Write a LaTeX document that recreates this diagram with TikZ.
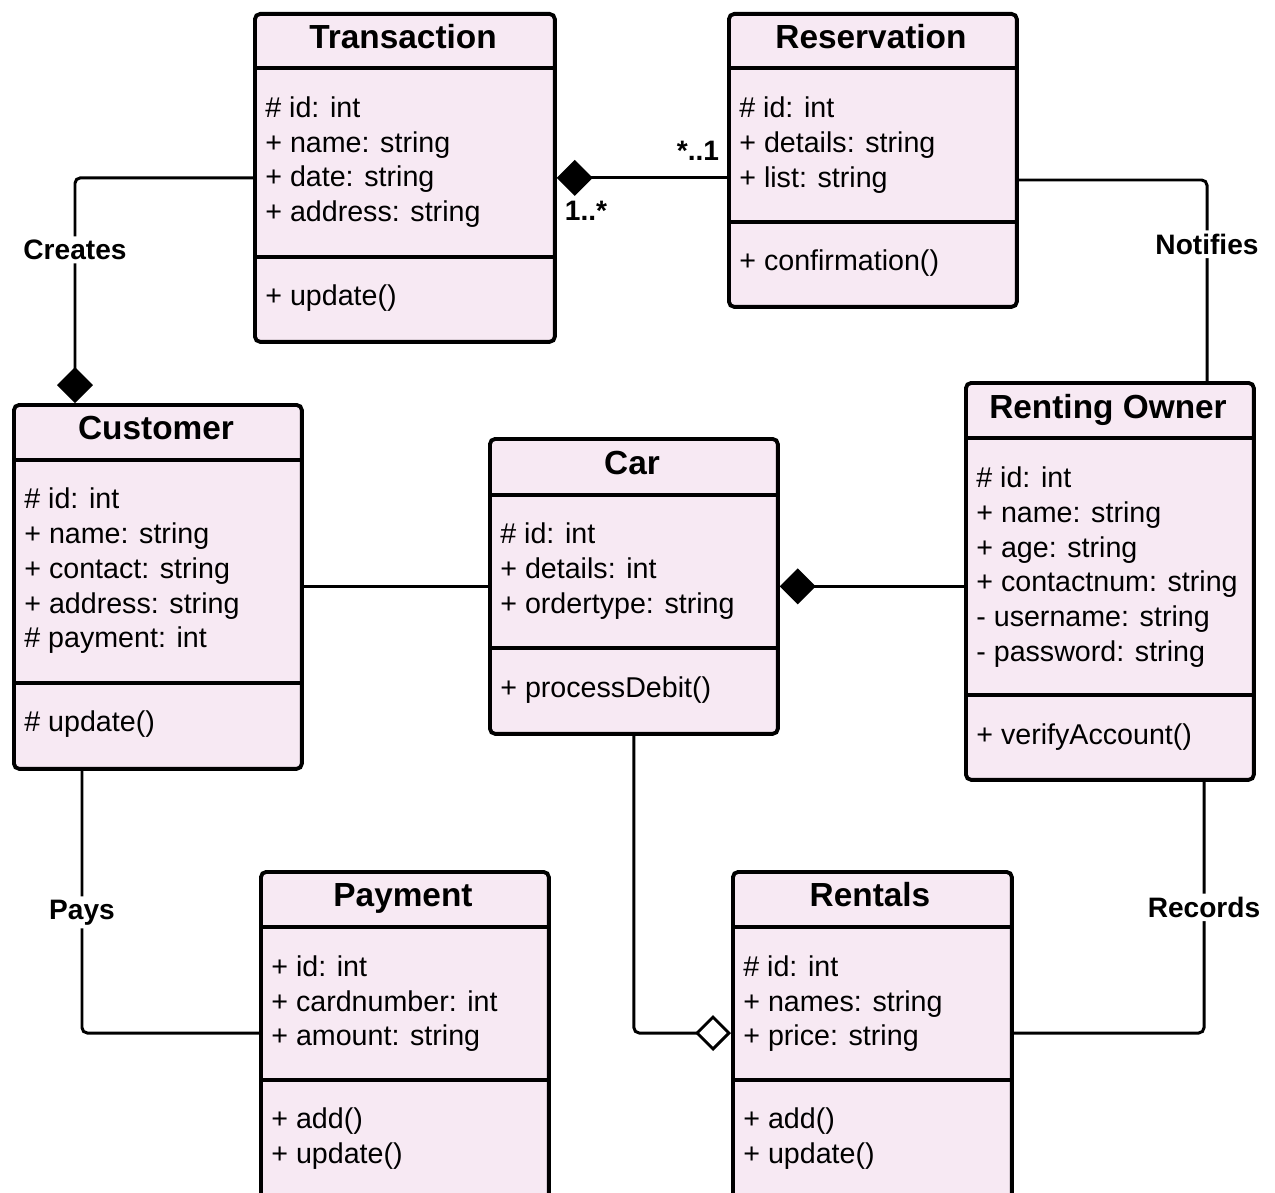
\documentclass[tikz,border=0pt]{standalone}
\usepackage{fontspec}
\setmainfont{Liberation Sans}
\usetikzlibrary{arrows.meta,calc}
\definecolor{classpink}{RGB}{247,233,243}
\tikzset{
  x=0.02cm, y=-0.02cm,
  umlbox/.style={draw=black, line width=2.2pt, fill=classpink, rounded corners=3pt,
    anchor=north west, inner sep=0pt},
  divider/.style={line width=2.2pt},
  ctitle/.style={font=\fontsize{19}{22}\selectfont\bfseries, anchor=mid, inner sep=0pt,
    yshift=-0.14cm},
  member/.style={font=\fontsize{16.3}{20}\selectfont, anchor=mid west, inner sep=0pt,
    yshift=-0.12cm},
  assoc/.style={line width=1.7pt, rounded corners=3pt},
  lbl/.style={font=\fontsize{16}{19}\selectfont\bfseries, fill=white, inner sep=2pt},
  mult/.style={font=\fontsize{16}{19}\selectfont\bfseries, inner sep=0pt},
  compend/.style={-{Diamond[length=0.72cm,width=0.72cm]}},
  compstart/.style={{Diamond[length=0.72cm,width=0.72cm]}-},
  aggend/.style={-{Diamond[open,length=0.72cm,width=0.72cm,fill=white]}},
}
\begin{document}
\begin{tikzpicture}
\clip (0,0) rectangle (1275,1193);
\fill[white] (0,0) rectangle (1275,1193);

% ---------- Transaction ----------
\node[umlbox, minimum width=6cm, minimum height=6.56cm] (trans) at (253,12) {};
\draw[divider] ($(trans.north west)+(0,56)$) -- ($(trans.north east)+(0,56)$);
\draw[divider] ($(trans.north west)+(0,245)$) -- ($(trans.north east)+(0,245)$);
\node[ctitle] (trans-t) at (403,37) {Transaction};
\node[member] (trans-a1) at (265,107) {\# id: int};
\node[member] (trans-a2) at (265,142) {+ name: string};
\node[member] (trans-a3) at (265,176) {+ date: string};
\node[member] (trans-a4) at (265,211) {+ address: string};
\node[member] (trans-m1) at (265,295) {+ update()};

% ---------- Reservation ----------
\node[umlbox, minimum width=5.76cm, minimum height=5.86cm] (res) at (727,12) {};
\draw[divider] ($(res.north west)+(0,56)$) -- ($(res.north east)+(0,56)$);
\draw[divider] ($(res.north west)+(0,210)$) -- ($(res.north east)+(0,210)$);
\node[ctitle] (res-t) at (871,37) {Reservation};
\node[member] (res-a1) at (739,107) {\# id: int};
\node[member] (res-a2) at (739,142) {+ details: string};
\node[member] (res-a3) at (739,177) {+ list: string};
\node[member] (res-m1) at (739,260) {+ confirmation()};

% ---------- Customer ----------
\node[umlbox, minimum width=5.76cm, minimum height=7.28cm] (cust) at (12,403) {};
\draw[divider] ($(cust.north west)+(0,57)$) -- ($(cust.north east)+(0,57)$);
\draw[divider] ($(cust.north west)+(0,280)$) -- ($(cust.north east)+(0,280)$);
\node[ctitle] (cust-t) at (156,428) {Customer};
\node[member] (cust-a1) at (24,498) {\# id: int};
\node[member] (cust-a2) at (24,533) {+ name: string};
\node[member] (cust-a3) at (24,568) {+ contact: string};
\node[member] (cust-a4) at (24,603) {+ address: string};
\node[member] (cust-a5) at (24,637) {\# payment: int};
\node[member] (cust-m1) at (24,721) {\# update()};

% ---------- Car ----------
\node[umlbox, minimum width=5.76cm, minimum height=5.9cm] (car) at (488,437) {};
\draw[divider] ($(car.north west)+(0,58)$) -- ($(car.north east)+(0,58)$);
\draw[divider] ($(car.north west)+(0,211)$) -- ($(car.north east)+(0,211)$);
\node[ctitle] (car-t) at (632,463) {Car};
\node[member] (car-a1) at (500,533) {\# id: int};
\node[member] (car-a2) at (500,568) {+ details: int};
\node[member] (car-a3) at (500,603) {+ ordertype: string};
\node[member] (car-m1) at (500,687) {+ processDebit()};

% ---------- Renting Owner ----------
\node[umlbox, minimum width=5.76cm, minimum height=7.94cm] (own) at (964,381) {};
\draw[divider] ($(own.north west)+(0,57)$) -- ($(own.north east)+(0,57)$);
\draw[divider] ($(own.north west)+(0,314)$) -- ($(own.north east)+(0,314)$);
\node[ctitle] (own-t) at (1108,407) {Renting Owner};
\node[member] (own-a1) at (976,477) {\# id: int};
\node[member] (own-a2) at (976,512) {+ name: string};
\node[member] (own-a3) at (976,547) {+ age: string};
\node[member] (own-a4) at (976,581) {+ contactnum: string};
\node[member] (own-a5) at (976,616) {- username: string};
\node[member] (own-a6) at (976,651) {- password: string};
\node[member] (own-m1) at (976,734) {+ verifyAccount()};

% ---------- Payment ----------
\node[umlbox, minimum width=5.76cm, minimum height=7.2cm] (pay) at (259,870) {};
\draw[divider] ($(pay.north west)+(0,57)$) -- ($(pay.north east)+(0,57)$);
\draw[divider] ($(pay.north west)+(0,210)$) -- ($(pay.north east)+(0,210)$);
\node[ctitle] (pay-t) at (403,895) {Payment};
\node[member] (pay-a1) at (271,966) {+ id: int};
\node[member] (pay-a2) at (271,1001) {+ cardnumber: int};
\node[member] (pay-a3) at (271,1035) {+ amount: string};
\node[member] (pay-m1) at (271,1118) {+ add()};
\node[member] (pay-m2) at (271,1153) {+ update()};

% ---------- Rentals ----------
\node[umlbox, minimum width=5.58cm, minimum height=7.2cm] (rent) at (731,870) {};
\draw[divider] ($(rent.north west)+(0,57)$) -- ($(rent.north east)+(0,57)$);
\draw[divider] ($(rent.north west)+(0,210)$) -- ($(rent.north east)+(0,210)$);
\node[ctitle] (rent-t) at (870,895) {Rentals};
\node[member] (rent-a1) at (743,966) {\# id: int};
\node[member] (rent-a2) at (743,1001) {+ names: string};
\node[member] (rent-a3) at (743,1035) {+ price: string};
\node[member] (rent-m1) at (743,1118) {+ add()};
\node[member] (rent-m2) at (743,1153) {+ update()};

% ---------- Associations ----------
% Transaction creates Customer
\draw[assoc, compend] (trans.west) -| ($(cust.north west)+(63,0)$)
  node[lbl, pos=0.66] (l-creates) {Creates};
% Transaction -- Reservation
\draw[assoc, compstart] (trans.east) -- (trans.east -| res.west);
\node[mult] (m-left) at (586,211) {1..*};
\node[mult] (m-right) at (698,151) {*..1};
% Reservation notifies Renting Owner
\draw[assoc] ($(res.north east)+(0,168)$) -| ($(own.north west)+(243,0)$)
  node[lbl, pos=0.66] (l-notifies) {Notifies};
% Customer -- Car
\draw[assoc] (cust.east) -- (cust.east -| car.west);
% Car -- Renting Owner
\draw[assoc, compstart] (car.east) -- (car.east -| own.west);
% Customer pays Payment
\draw[assoc] ($(cust.south west)+(70,0)$) |- ($(pay.north west)+(0,163)$)
  node[lbl, pos=0.27] (l-pays) {Pays};
% Car -- Rentals (aggregation)
\draw[assoc, aggend] (car.south) |- ($(rent.north west)+(0,163)$);
% Renting Owner records Rentals
\draw[assoc] ($(own.south west)+(240,0)$) |- ($(rent.north east)+(0,163)$)
  node[lbl, pos=0.25] (l-records) {Records};
\end{tikzpicture}
\end{document}
